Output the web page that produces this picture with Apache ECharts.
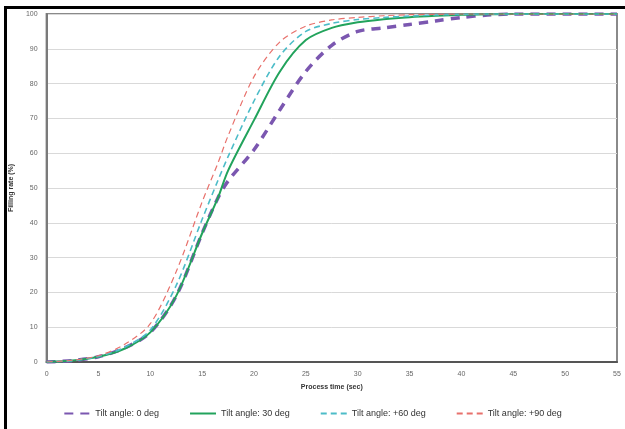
<!DOCTYPE html>
<html>
<head>
<meta charset="utf-8">
<script src="https://cdn.jsdelivr.net/npm/echarts@6/dist/echarts.min.js"></script>
<style>
  html, body { margin: 0; padding: 0; background: #fff; }
  #frame { position: absolute; left: 4px; top: 6px; width: 621px; height: 423px;
           border-left: 3px solid #000; border-top: 3px solid #000; box-sizing: border-box; }
  #chart { position: absolute; left: 0; top: 0; width: 625px; height: 429px; }
</style>
</head>
<body>
<div id="frame"></div>
<div id="chart"></div>
<script>
// process time (sec) sample points
const timeSec = [0, 2.5, 5, 7.5, 10, 12.5, 15, 16.5, 17.5, 20, 22.5, 25, 27.5, 30, 32.5, 35, 37.5, 40, 42.5, 45, 50, 55];

// filling rate (%) per tilt angle
const tilt0  = [0, 0.4, 1.5, 4.0, 8.5, 19, 37, 47, 52, 61, 72.5, 83.5, 91, 95, 96, 97, 98, 99, 99.7, 100, 100, 100];
const tilt30 = [0, 0.4, 1.5, 3.8, 8.5, 19, 37, 47, 55, 69.5, 83.5, 92.5, 96, 97.6, 98.5, 99.1, 99.5, 99.8, 99.9, 100, 100, 100];
const tilt60 = [0, 0.4, 1.6, 4.2, 9.2, 22, 41, 52, 59, 75, 88, 95, 97.3, 98.4, 99, 99.4, 99.7, 99.9, 100, 100, 100, 100];
const tilt90 = [0, 0.5, 1.8, 5.0, 11, 26, 46, 57, 65, 82, 92, 96.5, 98.3, 99, 99.5, 99.8, 99.9, 100, 100, 100, 100, 100];

const seriesNames = ['Tilt angle: 0 deg', 'Tilt angle: 30 deg', 'Tilt angle: +60 deg', 'Tilt angle: +90 deg'];
const xTicks = [0, 5, 10, 15, 20, 25, 30, 35, 40, 45, 50, 55];
const yTicks = [0, 10, 20, 30, 40, 50, 60, 70, 80, 90, 100];

function pairs(ys) {
    return timeSec.map((t, i) => [t, ys[i]]);
}

let option = {
    animation: false,
    grid: {
        left: 43,
        right: 8,
        top: 14,
        bottom: 67,
        show: true,
        borderColor: '#8a8a8a',
        borderWidth: 2
    },
    legend: {
        bottom: 6,
        left: 'center',
        itemGap: 30,
        itemWidth: 26,
        itemHeight: 8,
        itemStyle: { opacity: 0 },
        textStyle: { fontSize: 9, color: '#333', fontFamily: 'Liberation Sans' },
        data: seriesNames
    },
    xAxis: {
        type: 'value',
        min: 0,
        max: 55,
        interval: 5,
        name: 'Process time (sec)',
        nameLocation: 'middle',
        nameGap: 22,
        nameTextStyle: { fontSize: 7, color: '#333', fontWeight: 'bold', fontFamily: 'Liberation Sans' },
        axisLine: { lineStyle: { color: '#555', width: 2 } },
        axisTick: { show: false },
        axisLabel: { fontSize: 7, color: '#666', margin: 9,
                     formatter: v => xTicks.includes(v) ? String(v) : '' },
        splitLine: { show: false }
    },
    yAxis: {
        type: 'value',
        min: 0,
        max: 100,
        interval: 10,
        name: 'Filling rate (%)',
        nameLocation: 'middle',
        nameGap: 27,
        nameTextStyle: { fontSize: 7, color: '#333', fontWeight: 'bold', fontFamily: 'Liberation Sans' },
        axisLine: { show: true, lineStyle: { color: '#7a7a7a', width: 2 } },
        axisTick: { show: false },
        axisLabel: { fontSize: 7, color: '#666', margin: 9,
                     formatter: v => yTicks.includes(v) ? String(v) : '' },
        splitLine: { lineStyle: { color: '#d9d9d9', width: 1 } }
    },
    series: [
        {
            name: seriesNames[0],
            type: 'line',
            smooth: 0.3,
            symbol: 'none',
            data: pairs(tilt0),
            lineStyle: { color: '#7b57b0', width: 3.5, type: [9, 7] },
            itemStyle: { color: '#7b57b0' },
            z: 2
        },
        {
            name: seriesNames[1],
            type: 'line',
            smooth: 0.3,
            symbol: 'none',
            data: pairs(tilt30),
            lineStyle: { color: '#22a35c', width: 2 },
            itemStyle: { color: '#22a35c' },
            z: 3
        },
        {
            name: seriesNames[2],
            type: 'line',
            smooth: 0.3,
            symbol: 'none',
            data: pairs(tilt60),
            lineStyle: { color: '#4cbcc8', width: 1.6, type: [6, 4] },
            itemStyle: { color: '#4cbcc8' },
            z: 4
        },
        {
            name: seriesNames[3],
            type: 'line',
            smooth: 0.3,
            symbol: 'none',
            data: pairs(tilt90),
            lineStyle: { color: '#e8716c', width: 1.2, type: [6, 4] },
            itemStyle: { color: '#e8716c' },
            z: 5
        }
    ]
};

let myChart = echarts.init(document.getElementById('chart'));
myChart.setOption(option);
</script>
</body>
</html>
